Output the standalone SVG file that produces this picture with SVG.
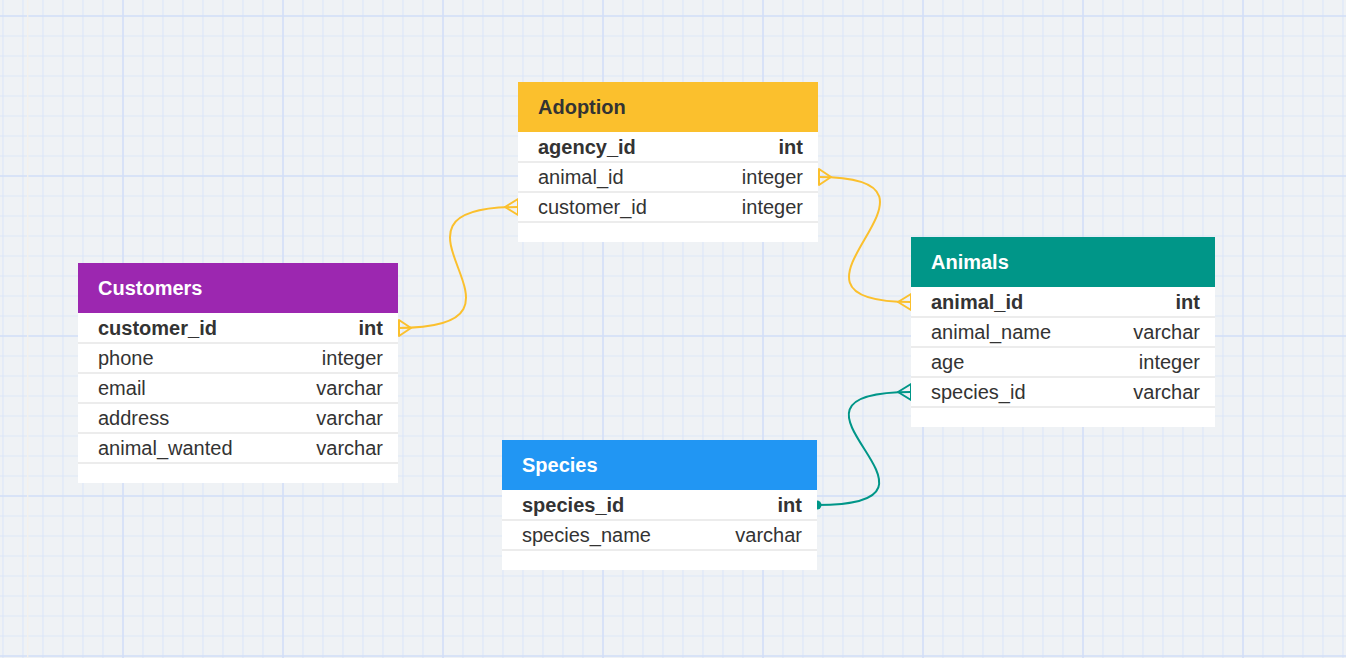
<svg xmlns="http://www.w3.org/2000/svg" width="1346" height="658" viewBox="0 0 1346 658">
<style>
.hd{font-family:"Liberation Sans",Arial,sans-serif;font-size:20px;font-weight:bold;fill:#fff}
.dk{fill:#333}
.f{font-family:"Liberation Sans",Arial,sans-serif;font-size:20px;fill:#333}
.b{font-weight:bold}
.t{text-anchor:end}
.sep{stroke:#ececec;stroke-width:2}
.rel{fill:none;stroke-width:2;stroke-linejoin:round;stroke-linecap:round}
.y{stroke:#fbc02d}
.g{stroke:#009688}
</style>
<defs>
<pattern id="minor" x="-7" y="6" width="20" height="20" patternUnits="userSpaceOnUse">
<path d="M10,0V20M0,10H20" stroke="#dde7f8" stroke-width="1.2" fill="none"/>
</pattern>
<pattern id="major" x="43" y="-64" width="160" height="160" patternUnits="userSpaceOnUse">
<path d="M80,0V160M0,80H160" stroke="#d3dff7" stroke-width="1.4" fill="none"/>
</pattern>
</defs>
<rect width="1346" height="658" fill="#eff2f5"/>
<rect width="1346" height="658" fill="url(#minor)"/>
<rect width="1346" height="658" fill="url(#major)"/>
<line x1="27.7" y1="0" x2="27.7" y2="658" stroke="#f4f1ed" stroke-width="1.3"/>

<g id="connectors">
<path class="rel y" d="M398,328 C564,328 352,207 518,207"/>
<path class="rel y" d="M399,320 L411,328 L399,336 Z M518,199 L505,207 L518,215 Z"/>
<path class="rel y" d="M818,177 C984,177 745,302 911,302"/>
<path class="rel y" d="M819,169 L831,177 L819,185 Z M911,294 L898,302 L911,310 Z"/>
<path class="rel g" d="M817,505 C983,505 745,392 911,392"/>
<path class="rel g" d="M911,384 L898,392 L911,400 Z"/>
<circle cx="817" cy="505" r="4.5" fill="#009688"/>
</g>

<g id="customers">
<rect x="78" y="263" width="320" height="220" fill="#fff"/>
<rect x="78" y="263" width="320" height="50" fill="#9c27b0"/>
<text class="hd" x="98" y="295">Customers</text>
<path class="sep" d="M78,343H398M78,373H398M78,403H398M78,433H398M78,463H398"/>
<text class="f b" x="98" y="335">customer_id</text><text class="f b t" x="383" y="335">int</text>
<text class="f" x="98" y="365">phone</text><text class="f t" x="383" y="365">integer</text>
<text class="f" x="98" y="395">email</text><text class="f t" x="383" y="395">varchar</text>
<text class="f" x="98" y="425">address</text><text class="f t" x="383" y="425">varchar</text>
<text class="f" x="98" y="455">animal_wanted</text><text class="f t" x="383" y="455">varchar</text>
</g>

<g id="adoption">
<rect x="518" y="82" width="300" height="160" fill="#fff"/>
<rect x="518" y="82" width="300" height="50" fill="#fbc02d"/>
<text class="hd dk" x="538" y="114">Adoption</text>
<path class="sep" d="M518,162H818M518,192H818M518,222H818"/>
<text class="f b" x="538" y="154">agency_id</text><text class="f b t" x="803" y="154">int</text>
<text class="f" x="538" y="184">animal_id</text><text class="f t" x="803" y="184">integer</text>
<text class="f" x="538" y="214">customer_id</text><text class="f t" x="803" y="214">integer</text>
</g>

<g id="animals">
<rect x="911" y="237" width="304" height="190" fill="#fff"/>
<rect x="911" y="237" width="304" height="50" fill="#009688"/>
<text class="hd" x="931" y="269">Animals</text>
<path class="sep" d="M911,317H1215M911,347H1215M911,377H1215M911,407H1215"/>
<text class="f b" x="931" y="309">animal_id</text><text class="f b t" x="1200" y="309">int</text>
<text class="f" x="931" y="339">animal_name</text><text class="f t" x="1200" y="339">varchar</text>
<text class="f" x="931" y="369">age</text><text class="f t" x="1200" y="369">integer</text>
<text class="f" x="931" y="399">species_id</text><text class="f t" x="1200" y="399">varchar</text>
</g>

<g id="species">
<rect x="502" y="440" width="315" height="130" fill="#fff"/>
<rect x="502" y="440" width="315" height="50" fill="#2196f3"/>
<text class="hd" x="522" y="472">Species</text>
<path class="sep" d="M502,520H817M502,550H817"/>
<text class="f b" x="522" y="512">species_id</text><text class="f b t" x="802" y="512">int</text>
<text class="f" x="522" y="542">species_name</text><text class="f t" x="802" y="542">varchar</text>
</g>
</svg>
